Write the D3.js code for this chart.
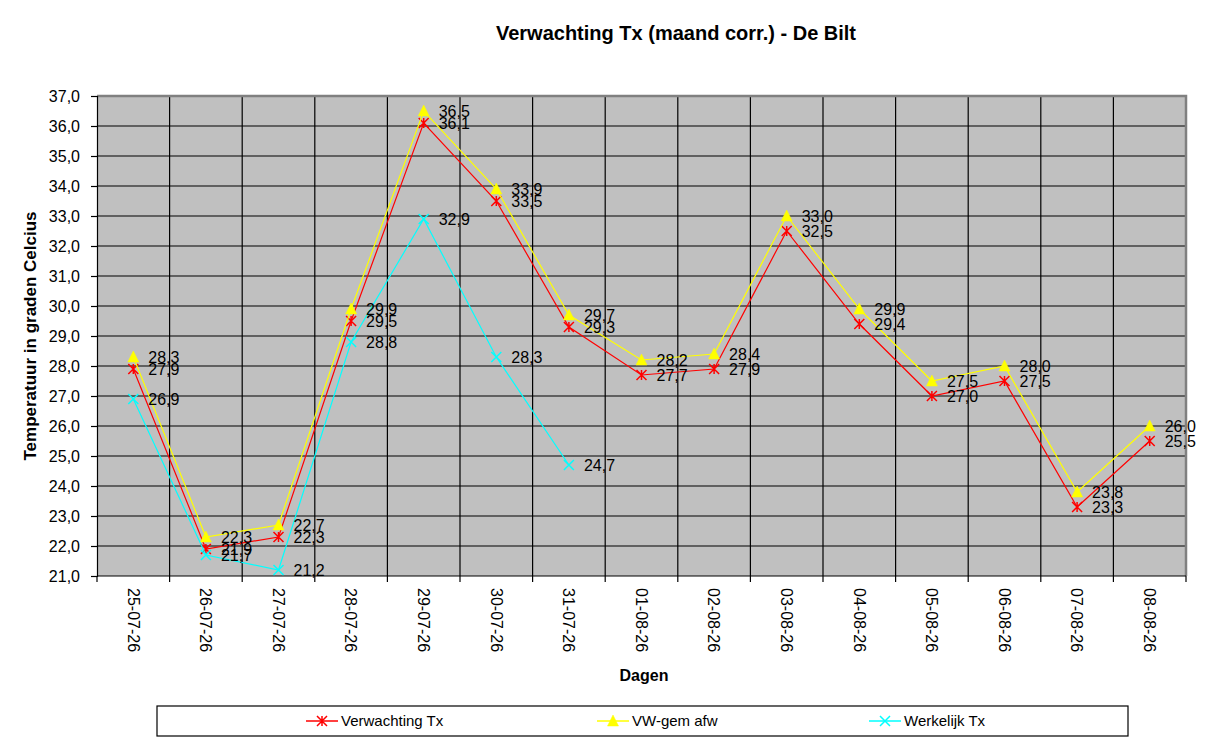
<!DOCTYPE html>
<html>
<head>
<meta charset="utf-8">
<script src="https://cdn.jsdelivr.net/npm/d3@7"></script>
<style>
  body { margin: 0; background: #fff; }
  svg text { font-family: Arial, "Liberation Sans", sans-serif; }
</style>
</head>
<body>
<svg id="chart" width="1217" height="745"></svg>
<script>
// categories and series
const days = ['25-07-26','26-07-26','27-07-26','28-07-26','29-07-26','30-07-26','31-07-26',
              '01-08-26','02-08-26','03-08-26','04-08-26','05-08-26','06-08-26','07-08-26','08-08-26'];
const verwachting = [27.9, 21.9, 22.3, 29.5, 36.1, 33.5, 29.3, 27.7, 27.9, 32.5, 29.4, 27.0, 27.5, 23.3, 25.5];
const vwGem       = [28.3, 22.3, 22.7, 29.9, 36.5, 33.9, 29.7, 28.2, 28.4, 33.0, 29.9, 27.5, 28.0, 23.8, 26.0];
const werkelijk   = [26.9, 21.7, 21.2, 28.8, 32.9, 28.3, 24.7];
const yTicks = d3.range(21, 37.01, 1);

const CFG = {
  left: 97, right: 1186, top: 96, bottom: 576,
  plotBg: '#c0c0c0',
  frame: '#808080',
  fontSize: 16
};

const series = [
  { name: 'Verwachting Tx', values: verwachting, colour: '#ff0000', marker: 'star' },
  { name: 'VW-gem afw',     values: vwGem,       colour: '#ffff00', marker: 'tri' },
  { name: 'Werkelijk Tx',   values: werkelijk,   colour: '#00ffff', marker: 'cross' }
];

const svg = d3.select('#chart');

const x = d3.scaleBand().domain(days).range([CFG.left, CFG.right]);
const y = d3.scaleLinear().domain([21, 37]).range([CFG.bottom, CFG.top]);
const cx = d => x(d) + x.bandwidth() / 2;
const fmt = d => d3.format('.1f')(d).replace('.', ',');

// ---------- plot area ----------
svg.append('rect')
  .attr('x', CFG.left).attr('y', CFG.top)
  .attr('width', CFG.right - CFG.left).attr('height', CFG.bottom - CFG.top)
  .attr('fill', CFG.plotBg);

// horizontal grid
svg.append('g').selectAll('line').data(yTicks.slice(1)).join('line')
  .attr('x1', CFG.left).attr('x2', CFG.right)
  .attr('y1', d => y(d)).attr('y2', d => y(d))
  .attr('stroke', '#000').attr('stroke-width', 1.2);

// vertical grid at category boundaries
svg.append('g').selectAll('line').data(days.slice(1)).join('line')
  .attr('x1', d => x(d)).attr('x2', d => x(d))
  .attr('y1', CFG.top).attr('y2', CFG.bottom)
  .attr('stroke', '#000').attr('stroke-width', 1.2);

// gray frame top + right
svg.append('path')
  .attr('d', `M${CFG.left},${CFG.top}H${CFG.right}V${CFG.bottom}`)
  .attr('fill', 'none').attr('stroke', CFG.frame).attr('stroke-width', 2.5);

// ---------- axes ----------
const yAxis = svg.append('g')
  .attr('transform', `translate(${CFG.left},0)`)
  .call(d3.axisLeft(y).tickValues(yTicks).tickSize(6).tickPadding(11).tickFormat(fmt));
yAxis.select('.domain').attr('stroke', '#000').attr('stroke-width', 1.2);
yAxis.selectAll('.tick line').attr('stroke', '#000').attr('stroke-width', 1.2);
yAxis.selectAll('.tick text')
  .attr('font-size', CFG.fontSize).attr('fill', '#000')
  .attr('font-family', 'Arial, "Liberation Sans", sans-serif');

const xAxis = svg.append('g')
  .attr('transform', `translate(0,${CFG.bottom})`);
xAxis.append('line')
  .attr('x1', CFG.left).attr('x2', CFG.right)
  .attr('stroke', '#000').attr('stroke-width', 1.2);
xAxis.selectAll('line.tk').data(days.concat(['end'])).join('line')
  .attr('class', 'tk')
  .attr('x1', (d, i) => CFG.left + i * x.step()).attr('x2', (d, i) => CFG.left + i * x.step())
  .attr('y1', 0).attr('y2', 6)
  .attr('stroke', '#000').attr('stroke-width', 1.2);
xAxis.selectAll('text').data(days).join('text')
  .attr('transform', d => `translate(${cx(d)},12) rotate(90)`)
  .attr('dy', '0.35em')
  .attr('font-size', CFG.fontSize)
  .text(d => d);

// ---------- titles ----------
svg.append('text')
  .attr('x', 676).attr('y', 40)
  .attr('text-anchor', 'middle')
  .attr('font-size', 20).attr('font-weight', 'bold')
  .text('Verwachting Tx (maand corr.) - De Bilt');

svg.append('text')
  .attr('transform', `translate(36,${(CFG.top + CFG.bottom) / 2}) rotate(-90)`)
  .attr('text-anchor', 'middle')
  .attr('font-size', 17).attr('font-weight', 'bold')
  .text('Temperatuur in graden Celcius');

svg.append('text')
  .attr('x', 644).attr('y', 681)
  .attr('text-anchor', 'middle')
  .attr('font-size', 16).attr('font-weight', 'bold')
  .text('Dagen');

// ---------- markers ----------
function drawMarker(g, type, colour, px, py, s) {
  if (type === 'star') {
    g.append('path')
      .attr('d', `M${px - s},${py - s}L${px + s},${py + s}M${px - s},${py + s}L${px + s},${py - s}M${px},${py - s}V${py + s}`)
      .attr('stroke', colour).attr('stroke-width', 1.5).attr('fill', 'none');
  } else if (type === 'tri') {
    g.append('path')
      .attr('d', `M${px},${py - s - 1}L${px + s + 0.5},${py + s}L${px - s - 0.5},${py + s}Z`)
      .attr('fill', colour).attr('stroke', colour).attr('stroke-width', 0.5);
  } else {
    g.append('path')
      .attr('d', `M${px - s},${py - s}L${px + s},${py + s}M${px - s},${py + s}L${px + s},${py - s}`)
      .attr('stroke', colour).attr('stroke-width', 1.5).attr('fill', 'none');
  }
}

const line = d3.line().x((d, i) => cx(days[i])).y(d => y(d));

series.forEach(s => {
  const g = svg.append('g');
  g.append('path')
    .attr('d', line(s.values))
    .attr('fill', 'none').attr('stroke', s.colour).attr('stroke-width', 1.2);
  s.values.forEach((v, i) => drawMarker(g, s.marker, s.colour, cx(days[i]), y(v), 5));
});

// value labels on top
series.forEach(s => {
  svg.append('g').selectAll('text').data(s.values).join('text')
    .attr('x', (d, i) => cx(days[i]) + 15)
    .attr('y', d => y(d))
    .attr('dy', '0.38em')
    .attr('font-size', CFG.fontSize)
    .text(fmt);
});

// ---------- legend ----------
const lg = svg.append('g');
lg.append('rect')
  .attr('x', 157).attr('y', 706).attr('width', 971).attr('height', 30)
  .attr('fill', '#fff').attr('stroke', '#000').attr('stroke-width', 1.2);
const legendX = [306, 597, 869];
series.forEach((s, i) => {
  const lx = legendX[i], ly = 721;
  lg.append('line')
    .attr('x1', lx).attr('x2', lx + 32).attr('y1', ly).attr('y2', ly)
    .attr('stroke', s.colour).attr('stroke-width', 1.5);
  drawMarker(lg, s.marker, s.colour, lx + 16, ly, 5);
  lg.append('text')
    .attr('x', lx + 35).attr('y', ly).attr('dy', '0.36em')
    .attr('font-size', 15)
    .text(s.name);
});
</script>
</body>
</html>
